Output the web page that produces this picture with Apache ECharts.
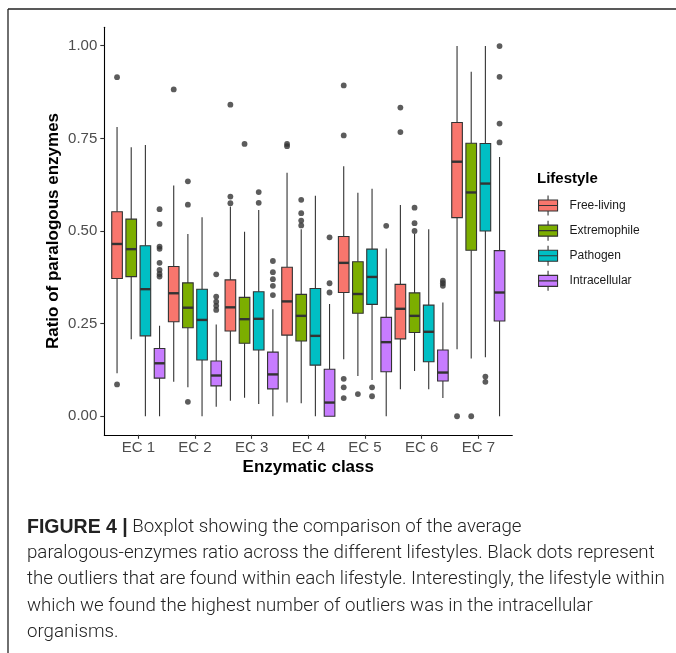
<!DOCTYPE html>
<html>
<head>
<meta charset="utf-8">
<script src="https://cdn.jsdelivr.net/npm/echarts@6.0.0/dist/echarts.min.js"></script>
<style>
html,body{margin:0;padding:0;background:#fff;}
#chart{width:676px;height:653px;}
</style>
</head>
<body>
<div id="chart"></div>
<script>
// ---- data ----
const categories = ['EC 1', 'EC 2', 'EC 3', 'EC 4', 'EC 5', 'EC 6', 'EC 7'];
const lifestyles = ['Free-living', 'Extremophile', 'Pathogen', 'Intracellular'];
const yTicks = [0, 0.25, 0.5, 0.75, 1.0];

// [lower whisker, Q1, median, Q3, upper whisker] per enzymatic class
const freeLiving = [
  [0.116, 0.372, 0.465, 0.552, 0.781],
  [0.093, 0.255, 0.332, 0.404, 0.623],
  [0.042, 0.230, 0.294, 0.368, 0.566],
  [0.037, 0.219, 0.310, 0.402, 0.657],
  [0.154, 0.334, 0.414, 0.485, 0.675],
  [0.073, 0.209, 0.290, 0.356, 0.570],
  [0.181, 0.536, 0.687, 0.793, 0.999]
];
const extremophile = [
  [0.208, 0.377, 0.451, 0.532, 0.726],
  [0.078, 0.239, 0.293, 0.360, 0.492],
  [0.050, 0.197, 0.262, 0.321, 0.498],
  [0.035, 0.203, 0.271, 0.329, 0.505],
  [0.109, 0.278, 0.330, 0.417, 0.603],
  [0.122, 0.226, 0.271, 0.333, 0.492],
  [0.156, 0.448, 0.604, 0.737, 0.930]
];
const pathogen = [
  [0.000, 0.217, 0.343, 0.460, 0.732],
  [0.000, 0.152, 0.260, 0.343, 0.537],
  [0.033, 0.179, 0.263, 0.336, 0.557],
  [0.000, 0.138, 0.217, 0.345, 0.595],
  [0.098, 0.302, 0.376, 0.451, 0.614],
  [0.073, 0.147, 0.228, 0.300, 0.505],
  [0.159, 0.500, 0.628, 0.736, 0.999]
];
const intracellular = [
  [0.000, 0.103, 0.143, 0.183, 0.244],
  [0.026, 0.082, 0.110, 0.149, 0.248],
  [0.000, 0.074, 0.113, 0.173, 0.289],
  [0.000, 0.000, 0.037, 0.127, 0.303],
  [0.000, 0.120, 0.200, 0.267, 0.453],
  [0.049, 0.095, 0.118, 0.179, 0.307],
  [0.000, 0.257, 0.334, 0.447, 0.700]
];

// outliers per enzymatic class
const freeLivingOut = [[0.915, 0.086], [0.882], [0.841, 0.593, 0.575], [0.735, 0.729], [0.893, 0.758, 0.101, 0.078, 0.049], [0.833, 0.767], [0.0]];
const extremophileOut = [[], [0.634, 0.571, 0.039], [0.735], [0.584, 0.548, 0.528, 0.515], [0.060], [0.563, 0.521, 0.500], [0.0]];
const pathogenOut = [[], [], [0.605, 0.576], [], [0.078, 0.054], [], [0.107, 0.093]];
const intracellularOut = [[0.559, 0.519, 0.458, 0.452, 0.414, 0.395, 0.384, 0.377], [0.383, 0.323, 0.309, 0.298, 0.287], [0.419, 0.389, 0.370, 0.352, 0.327], [0.483, 0.359, 0.334], [0.514], [0.366, 0.359, 0.352], [0.999, 0.916, 0.790, 0.739]];

const boxStats = [freeLiving, extremophile, pathogen, intracellular];
const outliers = [freeLivingOut, extremophileOut, pathogenOut, intracellularOut];
const colors = ['#F8766D', '#7CAE00', '#00BFC4', '#C77CFF'];

// ---- layout constants ----
const DODGE = 0.25;
const BOX_W = 0.1875;
const INK = '#333333';

function xPos(ci, si) { return ci + 1 + (si - 1.5) * DODGE; }

const series = [];
lifestyles.forEach((name, si) => {
  series.push({
    name: name,
    type: 'custom',
    itemStyle: { color: colors[si] },
    encode: { x: 0, y: [1, 2, 3, 4, 5] },
    data: boxStats[si].map((s, ci) => [xPos(ci, si)].concat(s)),
    renderItem: function (params, api) {
      const x = api.value(0);
      const lo = api.coord([x, api.value(1)]);
      const q1 = api.coord([x, api.value(2)]);
      const md = api.coord([x, api.value(3)]);
      const q3 = api.coord([x, api.value(4)]);
      const hi = api.coord([x, api.value(5)]);
      const hw = api.size([BOX_W, 0])[0] / 2;
      const cx = lo[0];
      return {
        type: 'group',
        children: [
          { type: 'line', shape: { x1: cx, y1: hi[1], x2: cx, y2: q3[1] }, style: { stroke: INK, lineWidth: 1.1 } },
          { type: 'line', shape: { x1: cx, y1: q1[1], x2: cx, y2: lo[1] }, style: { stroke: INK, lineWidth: 1.1 } },
          { type: 'rect', shape: { x: cx - hw, y: q3[1], width: 2 * hw, height: q1[1] - q3[1] }, style: { fill: colors[si], stroke: INK, lineWidth: 1.1 } },
          { type: 'line', shape: { x1: cx - hw, y1: md[1], x2: cx + hw, y2: md[1] }, style: { stroke: INK, lineWidth: 2.4 } }
        ]
      };
    },
    z: 2
  });
});
lifestyles.forEach((name, si) => {
  const pts = [];
  outliers[si].forEach((list, ci) => list.forEach(v => pts.push([xPos(ci, si), v])));
  series.push({
    name: name + ' outliers',
    type: 'scatter',
    symbol: 'circle',
    symbolSize: 5.8,
    itemStyle: { color: INK },
    data: pts,
    z: 3,
    silent: true
  });
});

const chart = echarts.init(document.getElementById('chart'), null, { renderer: 'canvas' });
chart.setOption({
  animation: false,
  backgroundColor: '#ffffff',
  textStyle: { fontFamily: 'Liberation Sans, Arial, sans-serif' },
  grid: { left: 104.3, right: 163.7, top: 27.2, bottom: 218.2, containLabel: false },
  xAxis: {
    type: 'value', min: 0.4, max: 7.6,
    name: 'Enzymatic class', nameLocation: 'middle', nameGap: 24, nameMoveOverlap: false,
    nameTextStyle: { fontSize: 17, fontWeight: 'bold', color: '#000', verticalAlign: 'top' },
    axisLine: { show: true, onZero: false, lineStyle: { color: '#000', width: 1.1 } },
    axisTick: { show: true, length: 4, customValues: [1, 2, 3, 4, 5, 6, 7], lineStyle: { color: INK, width: 1.1 } },
    axisLabel: { customValues: [1, 2, 3, 4, 5, 6, 7], formatter: v => categories[Math.round(v) - 1], fontSize: 15, color: '#4D4D4D', margin: 6 },
    splitLine: { show: false }
  },
  yAxis: {
    type: 'value', min: -0.05, max: 1.05,
    name: 'Ratio of paralogous enzymes', nameLocation: 'middle', nameGap: 42, nameRotate: 90, nameMoveOverlap: false,
    nameTextStyle: { fontSize: 17, fontWeight: 'bold', color: '#000' },
    axisLine: { show: true, onZero: false, lineStyle: { color: '#000', width: 1.1 } },
    axisTick: { show: true, length: 4, customValues: yTicks, lineStyle: { color: INK, width: 1.1 } },
    axisLabel: { customValues: yTicks, formatter: v => v.toFixed(2), fontSize: 15, color: '#4D4D4D', margin: 7 },
    splitLine: { show: false }
  },
  legend: {
    data: lifestyles,
    orient: 'vertical',
    left: 538, top: 195,
    itemWidth: 19, itemHeight: 20, itemGap: 4,
    padding: 0,
    selectedMode: false,
    icon: 'path://M0,4.5 L19,4.5 L19,15.5 L0,15.5 Z M0,10 L19,10 M9.5,0 L9.5,4.5 M9.5,15.5 L9.5,20',
    itemStyle: { borderColor: INK, borderWidth: 1.1 },
    textStyle: { fontSize: 12, color: '#1a1a1a', padding: [0, 0, 0, 7] }
  },
  graphic: [
    { type: 'text', left: 537, top: 171, style: { text: 'Lifestyle', font: 'bold 15px "Liberation Sans", Arial, sans-serif', fill: '#000' } },
    { type: 'line', shape: { x1: 8, y1: 9, x2: 676, y2: 9 }, style: { stroke: '#222', lineWidth: 1.3 } },
    { type: 'line', shape: { x1: 8, y1: 9, x2: 8, y2: 653 }, style: { stroke: '#222', lineWidth: 1.3 } },
    {
      type: 'text', left: 27, top: 514,
      style: {
        text: '{b|FIGURE 4 |} Boxplot showing the comparison of the average\nparalogous-enzymes ratio across the different lifestyles. Black dots represent\nthe outliers that are found within each lifestyle. Interestingly, the lifestyle within\nwhich we found the highest number of outliers was in the intracellular\norganisms.',
        font: '300 18.7px Roboto, sans-serif',
        fill: '#222',
        lineHeight: 26.3,
        rich: {
          b: { font: 'bold 19.5px "Liberation Sans", Arial, sans-serif', fill: '#222', lineHeight: 26.3 }
        }
      }
    }
  ],
  series: series
});
</script>
</body>
</html>
